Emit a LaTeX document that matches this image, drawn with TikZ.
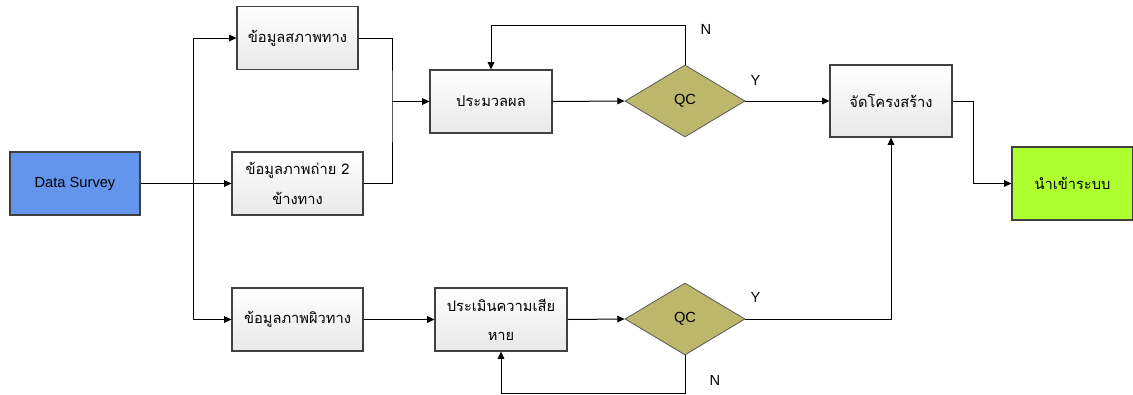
\documentclass[tikz,border=0pt]{standalone}
\usepackage{fontspec}
\setmainfont{Liberation Sans}
\newfontfamily\thaifont[Script=Thai]{Loma}
\usetikzlibrary{arrows.meta,shapes.geometric}

\definecolor{surveyblue}{RGB}{100,149,237}
\definecolor{qcolive}{RGB}{189,183,107}
\definecolor{importgreen}{RGB}{173,255,47}

\tikzset{
  box/.style={rectangle, draw=black!75, line width=0.8pt,
    top color=white, bottom color=black!9, align=center,
    minimum width=90.75pt, minimum height=47.25pt, inner sep=2pt,
    font=\thaifont\fontsize{11}{22}\selectfont},
  startbox/.style={box, top color=surveyblue, bottom color=surveyblue,
    font=\fontsize{11}{13}\selectfont},
  endbox/.style={box, top color=importgreen, bottom color=importgreen},
  qc/.style={diamond, draw=black!65, line width=0.6pt, fill=qcolive,
    minimum width=90pt, minimum height=54pt, inner sep=0pt,
    font=\fontsize{11}{13}\selectfont},
  flow/.style={-{Triangle[length=5.5pt,width=5pt]}, line width=0.75pt},
  lbl/.style={font=\fontsize{11}{13}\selectfont, inner sep=0pt}
}

\begin{document}
\begin{tikzpicture}[x=0.75pt, y=-0.75pt]
  \useasboundingbox (0,0) rectangle (1133,394);

  % input and the three data sets
  \node [startbox, minimum width=97.5pt] (survey) at (75,183.5) {Data Survey};
  \node [box] (road) at (297.5,38) {ข้อมูลสภาพทาง};
  \node [box, minimum width=98.25pt] (photo) at (297.5,183.5)
    {ข้อมูลภาพถ่าย 2\\ข้างทาง};
  \node [box, minimum width=98.25pt] (surface) at (297.5,319.5)
    {ข้อมูลภาพผิวทาง};

  % upper branch
  \node [box, minimum width=91.5pt] (proc) at (491,101.5) {ประมวลผล};
  \node [qc] (qcA) at (685,101) {QC};
  \node [box, minimum width=91.5pt, minimum height=54pt] (struct) at (891,101)
    {จัดโครงสร้าง};
  \node [endbox, minimum height=54.75pt] (import) at (1072.5,183.5) {นำเข้าระบบ};

  % lower branch
  \node [box, minimum width=99pt] (damage) at (501,319.5)
    {ประเมินความเสีย\\หาย};
  \node [qc] (qcB) at (685,319) {QC};

  \coordinate (split) at (193,183.5);
  \coordinate (merge) at (392,101.5);

  % fan out
  \draw [flow] (survey.east) -- (photo.west);
  \draw [flow] (split) |- (road.west);
  \draw [flow] (split) |- (surface.west);

  % join into processing
  \draw [line width=0.75pt] (road.east) -| (merge) |- (photo.east);
  \draw [flow] (merge) -- (proc.west);
  \draw [flow] (proc.east) -- (qcA.west);
  \draw [flow] (qcA.east) -- (struct.west)
    node [lbl, at start, xshift=7.5pt, yshift=15.75pt] {Y};
  \draw [flow] (qcA.north) -- ++(0,-39) -| (proc.north);
  \node [lbl] at ([xshift=15.75pt, yshift=26.25pt]qcA.north) {N};

  % damage assessment
  \draw [flow] (surface.east) -- (damage.west);
  \draw [flow] (damage.east) -- (qcB.west);
  \draw [flow] (qcB.east) -| (struct.south);
  \node [lbl] at ([xshift=7.5pt, yshift=16.5pt]qcB.east) {Y};
  \draw [flow] (qcB.south) -- ++(0,38) -| (damage.south);
  \node [lbl] at ([xshift=22.5pt, yshift=-18.75pt]qcB.south) {N};

  % output
  \draw [flow] (struct.east) -- ++(21,0) |- (import.west);
\end{tikzpicture}
\end{document}
